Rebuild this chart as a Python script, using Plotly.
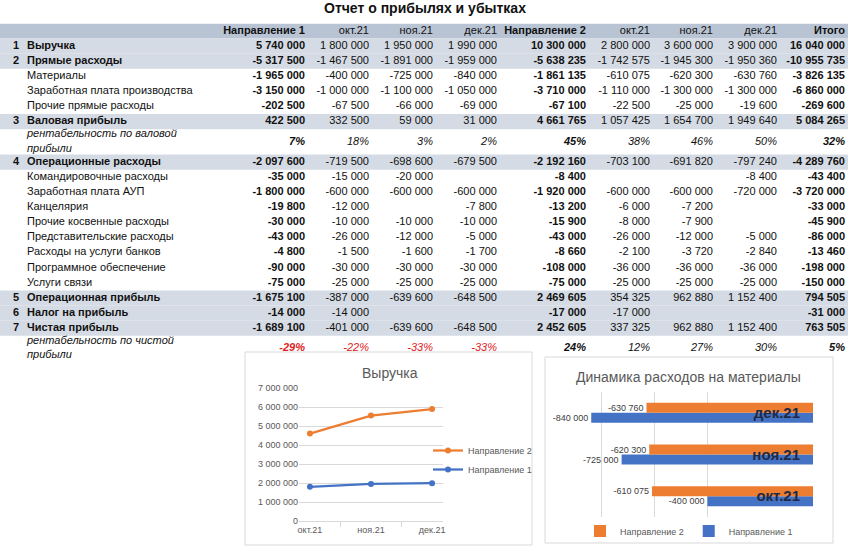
import plotly.graph_objects as go

# --- данные отчета ---
columns = ["Направление 1", "окт.21", "ноя.21", "дек.21",
           "Направление 2", "окт.21", "ноя.21", "дек.21", "Итого"]
summary_cols = [0, 4, 8]
months = ["окт.21", "ноя.21", "дек.21"]

revenue = [5740000, 1800000, 1950000, 1990000, 10300000, 2800000, 3600000, 3900000, 16040000]
direct_costs = [-5317500, -1467500, -1891000, -1959000, -5638235, -1742575, -1945300, -1950360, -10955735]
materials = [-1965000, -400000, -725000, -840000, -1861135, -610075, -620300, -630760, -3826135]
prod_salary = [-3150000, -1000000, -1100000, -1050000, -3710000, -1110000, -1300000, -1300000, -6860000]
other_direct = [-202500, -67500, -66000, -69000, -67100, -22500, -25000, -19600, -269600]
gross_profit = [422500, 332500, 59000, 31000, 4661765, 1057425, 1654700, 1949640, 5084265]
gross_margin = [7, 18, 3, 2, 45, 38, 46, 50, 32]
opex = [-2097600, -719500, -698600, -679500, -2192160, -703100, -691820, -797240, -4289760]
travel = [-35000, -15000, -20000, None, -8400, None, None, -8400, -43400]
admin_salary = [-1800000, -600000, -600000, -600000, -1920000, -600000, -600000, -720000, -3720000]
stationery = [-19800, -12000, None, -7800, -13200, -6000, -7200, None, -33000]
other_indirect = [-30000, -10000, -10000, -10000, -15900, -8000, -7900, None, -45900]
representation = [-43000, -26000, -12000, -5000, -43000, -26000, -12000, -5000, -86000]
bank_fees = [-4800, -1500, -1600, -1700, -8660, -2100, -3720, -2840, -13460]
software = [-90000, -30000, -30000, -30000, -108000, -36000, -36000, -36000, -198000]
communication = [-75000, -25000, -25000, -25000, -75000, -25000, -25000, -25000, -150000]
operating_profit = [-1675100, -387000, -639600, -648500, 2469605, 354325, 962880, 1152400, 794505]
income_tax = [-14000, -14000, None, None, -17000, -17000, None, None, -31000]
net_profit = [-1689100, -401000, -639600, -648500, 2452605, 337325, 962880, 1152400, 763505]
net_margin = [-29, -22, -33, -33, 24, 12, 27, 30, 5]

# (номер, название, тип строки, значения)
rows = [
    ("1", "Выручка", "main", revenue),
    ("2", "Прямые расходы", "main", direct_costs),
    ("", "Материалы", "item", materials),
    ("", "Заработная плата производства", "item", prod_salary),
    ("", "Прочие прямые расходы", "item", other_direct),
    ("3", "Валовая прибыль", "main", gross_profit),
    ("", "рентабельность по валовой<br>прибыли", "pct", gross_margin),
    ("4", "Операционные расходы", "main", opex),
    ("", "Командировочные расходы", "item", travel),
    ("", "Заработная плата АУП", "item", admin_salary),
    ("", "Канцелярия", "item", stationery),
    ("", "Прочие косвенные расходы", "item", other_indirect),
    ("", "Представительские расходы", "item", representation),
    ("", "Расходы на услуги банков", "item", bank_fees),
    ("", "Программное обеспечение", "item", software),
    ("", "Услуги связи", "item", communication),
    ("5", "Операционная прибыль", "main", operating_profit),
    ("6", "Налог на прибыль", "main", income_tax),
    ("7", "Чистая прибыль", "main", net_profit),
    ("", "рентабельность по чистой<br>прибыли", "pct", net_margin),
]

# данные для графиков берем из таблицы
dir1_revenue = revenue[1:4]
dir2_revenue = revenue[5:8]
dir1_materials = materials[1:4]
dir2_materials = materials[5:8]

BLUE = "#4472C4"
ORANGE = "#ED7D31"
HEADER_FILL = "#b8c3d3"
MAIN_FILL = "#d5dbe4"
RED = "#e0211b"
GRID = "#d9d9d9"
W, H = 862, 553


def fmt_num(v):
    return f"{v:,}".replace(",", " ")


# --- раскладка таблицы (в пикселях по горизонтали, в строках по вертикали) ---
num_right = 19
label_left = 27
value_right = [305, 369, 433, 497, 586, 650, 713, 777, 845]
table_right = 848
pct_row_height = 1.68
row_px = 15.1
table_top = 23.5

heights = [1.0] + [pct_row_height if r[2] == "pct" else 1.0 for r in rows]
tops = [0.0]
for h in heights[:-1]:
    tops.append(tops[-1] + h)
total_units = sum(heights)
centers = [t + h / 2 for t, h in zip(tops, heights)]

tx, ty, tt, tp = [], [], [], []
# шапка
for j, name in enumerate(columns):
    tx.append(value_right[j])
    ty.append(centers[0])
    tt.append(f"<b>{name}</b>" if j in summary_cols else name)
    tp.append("middle left")

for i, (num, label, kind, vals) in enumerate(rows):
    yc = centers[i + 1]
    if num:
        tx.append(num_right); ty.append(yc); tt.append(f"<b>{num}</b>"); tp.append("middle left")
    if kind == "main":
        lab = f"<b>{label}</b>"
    elif kind == "pct":
        lab = f"<i>{label}</i>"
    else:
        lab = label
    tx.append(label_left); ty.append(yc); tt.append(lab); tp.append("middle right")
    for j, v in enumerate(vals):
        if v is None:
            continue
        if kind == "pct":
            s = f"<i>{v}%</i>"
            if j in summary_cols:
                s = f"<b>{s}</b>"
            if v < 0:
                s = f"<span style='color:{RED}'>{s}</span>"
        else:
            s = fmt_num(v)
            if j in summary_cols:
                s = f"<b>{s}</b>"
        tx.append(value_right[j]); ty.append(yc); tt.append(s); tp.append("middle left")

fig = go.Figure()

# текст таблицы
fig.add_trace(go.Scatter(
    x=tx, y=ty, text=tt, textposition=tp, mode="text",
    textfont=dict(size=11, color="#111111", family="Arial, Liberation Sans, sans-serif"),
    xaxis="x3", yaxis="y3", showlegend=False, hoverinfo="skip", cliponaxis=False
))

# заливка шапки и итоговых строк
shapes = []
fills = [HEADER_FILL] + [MAIN_FILL if r[2] == "main" else None for r in rows]
for t, h, c in zip(tops, heights, fills):
    if c:
        shapes.append(dict(type="rect", xref="x3", yref="y3", x0=0, x1=table_right,
                           y0=t, y1=t + h, fillcolor=c, line=dict(width=0), layer="below"))

# рамки диаграмм
for x0, y0, x1, y1 in [(245, 352, 532, 545), (545, 357, 833, 543)]:
    shapes.append(dict(type="rect", xref="paper", yref="paper",
                       x0=x0 / W, x1=x1 / W, y0=1 - y1 / H, y1=1 - y0 / H,
                       fillcolor="white", line=dict(color=GRID, width=1), layer="below"))

# график «Выручка» (линии с накоплением)
fig.add_trace(go.Scatter(
    x=months, y=dir1_revenue, name="Направление 1", stackgroup="rev", fill="none",
    mode="lines+markers", line=dict(color=BLUE, width=2.25), marker=dict(size=6, color=BLUE),
    xaxis="x", yaxis="y", legend="legend"
))
fig.add_trace(go.Scatter(
    x=months, y=dir2_revenue, name="Направление 2", stackgroup="rev", fill="none",
    mode="lines+markers", line=dict(color=ORANGE, width=2.25), marker=dict(size=6, color=ORANGE),
    xaxis="x", yaxis="y", legend="legend"
))

# график «Динамика расходов на материалы»
fig.add_trace(go.Bar(
    y=months, x=dir1_materials, name="Направление 1", orientation="h",
    marker_color=BLUE, text=[fmt_num(v) for v in dir1_materials], textposition="outside",
    textfont=dict(size=9, color="#404040"), cliponaxis=False,
    xaxis="x2", yaxis="y2", legend="legend2"
))
fig.add_trace(go.Bar(
    y=months, x=dir2_materials, name="Направление 2", orientation="h",
    marker_color=ORANGE, text=[fmt_num(v) for v in dir2_materials], textposition="outside",
    textfont=dict(size=9, color="#404040"), cliponaxis=False,
    xaxis="x2", yaxis="y2", legend="legend2"
))

fig.update_layout(
    width=W, height=H,
    margin=dict(l=0, r=0, t=0, b=0),
    template="none",
    paper_bgcolor="white",
    plot_bgcolor="rgba(0,0,0,0)",
    separators=", ",
    font=dict(family="Arial, Liberation Sans, sans-serif", color="#111111"),
    barmode="group", bargap=0.52, bargroupgap=0,
    shapes=shapes,
    xaxis3=dict(domain=[0, 1], range=[0, W], visible=False, fixedrange=True),
    yaxis3=dict(domain=[1 - (table_top + total_units * row_px) / H, 1 - table_top / H],
                range=[total_units, 0], visible=False, fixedrange=True, anchor="x3"),
    xaxis=dict(domain=[299 / W, 443 / W], type="category", showgrid=False,
               showline=True, linecolor=GRID, ticks="outside", tickson="boundaries",
               ticklen=5, tickcolor=GRID, tickfont=dict(size=9, color="#595959"),
               anchor="y", zeroline=False),
    yaxis=dict(domain=[1 - 521 / H, 1 - 388 / H], range=[0, 7000000], dtick=1000000,
               tickformat=",d", showgrid=True, gridcolor=GRID, zeroline=False,
               showline=False, ticks="", tickfont=dict(size=9, color="#595959"), anchor="x"),
    xaxis2=dict(domain=[549 / W, 813 / W], range=[-1000000, 0], dtick=200000,
                showticklabels=False, showgrid=True, gridcolor=GRID, zeroline=False,
                showline=False, ticks="", anchor="y2"),
    yaxis2=dict(domain=[1 - 517 / H, 1 - 392 / H], type="category", side="right",
                ticklabelposition="inside", ticklabelstandoff=10,
                showgrid=False, showline=False, ticks="",
                tickfont=dict(size=15, color="#1f2a44",
                              family="Liberation Sans Narrow, Liberation Sans", weight="bold"),
                anchor="x2"),
    legend=dict(x=428 / W, y=1 - 436 / H, xanchor="left", yanchor="top",
                traceorder="reversed", bgcolor="rgba(0,0,0,0)",
                font=dict(size=9, color="#595959")),
    legend2=dict(orientation="h", x=689 / W, y=1 - 531 / H, xanchor="center", yanchor="middle",
                 traceorder="reversed", bgcolor="rgba(0,0,0,0)",
                 font=dict(size=9, color="#595959")),
    annotations=[
        dict(text="<b>Отчет о прибылях и убытках</b>", x=425 / W, y=1 - 8 / H,
             xanchor="center", yanchor="middle",
             xref="paper", yref="paper", showarrow=False, font=dict(size=14, color="#111111")),
        dict(text="Выручка", x=390 / W, y=1 - 373 / H, xref="paper", yref="paper",
             xanchor="center", yanchor="middle",
             showarrow=False, font=dict(size=14, color="#595959")),
        dict(text="Динамика расходов на материалы", x=688 / W, y=1 - 377 / H,
             xanchor="center", yanchor="middle",
             xref="paper", yref="paper", showarrow=False, font=dict(size=14, color="#595959")),
    ],
)

# убираем отступ body, чтобы график стоял ровно в углу окна
fig.write_html("out.html", config={"displayModeBar": False},
               post_script="document.body.style.margin='0';")
